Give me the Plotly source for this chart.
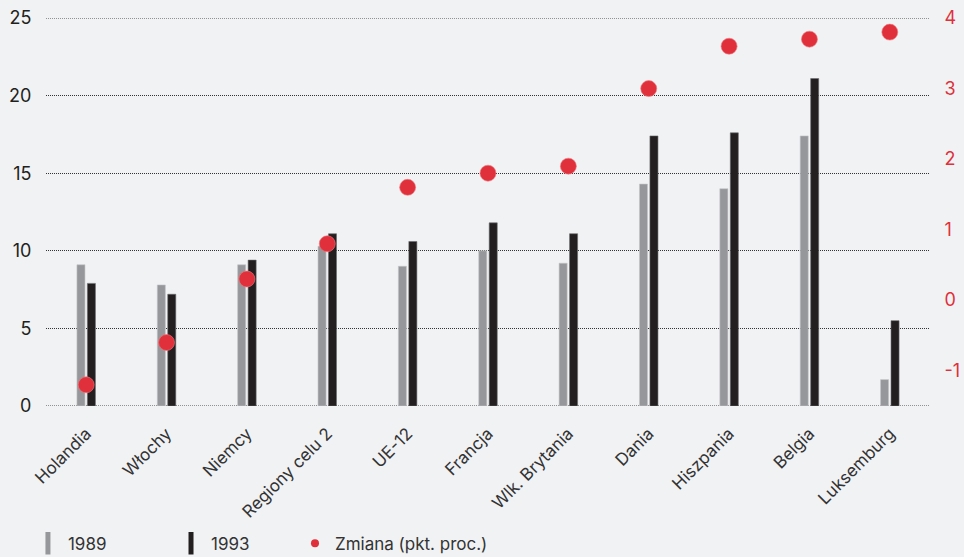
import plotly.graph_objects as go

regions = ["Holandia", "Włochy", "Niemcy", "Regiony celu 2", "UE-12", "Francja",
           "Wlk. Brytania", "Dania", "Hiszpania", "Belgia", "Luksemburg"]
y1989 = [9.1, 7.8, 9.1, 10.3, 9.0, 10.0, 9.2, 14.3, 14.0, 17.4, 1.7]
y1993 = [7.9, 7.2, 9.4, 11.1, 10.6, 11.8, 11.1, 17.4, 17.6, 21.1, 5.5]
change = [-1.2, -0.6, 0.3, 0.8, 1.6, 1.8, 1.9, 3.0, 3.6, 3.7, 3.8]

right_ticks = [-1, 0, 1, 2, 3, 4]
right_labels = ["-1", "0", "1", "2", "3", "4"]

GRAY = "#96979a"
BLACK = "#231f20"
RED = "#e0303b"
BG = "#f1f2f4"
FONT = "Inter, Roboto, sans-serif"
GRID_DASH = "1px,1px"

fig = go.Figure()

fig.add_trace(go.Bar(
    x=regions, y=y1989, name="1989", width=0.1, offset=-0.115,
    marker=dict(color=GRAY, line=dict(color="#c4c5c8", width=0.6)),
    showlegend=False,
))
fig.add_trace(go.Bar(
    x=regions, y=y1993, name="1993", width=0.1, offset=0.015,
    marker=dict(color=BLACK, line=dict(color="#6a6a6c", width=0.6)),
    showlegend=False,
))
fig.add_trace(go.Scatter(
    x=regions, y=change, name="Zmiana (pkt. proc.)", mode="markers",
    yaxis="y2", marker=dict(color=RED, size=16, line=dict(color="#f07880", width=0.6)),
    showlegend=False,
))

# legend-only entries, each in its own legend so they can sit at fixed spots
fig.add_trace(go.Scatter(x=[None], y=[None], mode="markers", name="1989", legend="legend",
                         marker=dict(symbol="line-ns", size=16, line=dict(color=GRAY, width=7))))
fig.add_trace(go.Scatter(x=[None], y=[None], mode="markers", name="1993", legend="legend2",
                         marker=dict(symbol="line-ns", size=16, line=dict(color=BLACK, width=7))))
fig.add_trace(go.Scatter(x=[None], y=[None], mode="markers", name="Zmiana (pkt. proc.)",
                         legend="legend3", marker=dict(color=RED, size=8)))

# dotted lines at the range edges (plotly skips gridlines there)
for yv in (0, 25):
    fig.add_hline(y=yv, line=dict(color="#333333", width=1, dash=GRID_DASH), layer="below")

leg = dict(orientation="h", xref="container", yref="container", y=0.024,
           yanchor="middle", xanchor="left",
           font=dict(size=17, color="#333333"), bgcolor="rgba(0,0,0,0)", itemwidth=30)

fig.update_layout(
    width=964, height=557,
    paper_bgcolor=BG, plot_bgcolor=BG,
    font=dict(family=FONT, color=BLACK),
    margin=dict(l=46, r=34, t=18, b=151, autoexpand=False),
    barmode="overlay",
    xaxis=dict(
        range=[-0.5, 10.5], tickangle=-45, showgrid=False, zeroline=False,
        tickfont=dict(size=17, color="#333333"),
        ticks="outside", ticklen=10, tickcolor="rgba(0,0,0,0)",
    ),
    yaxis=dict(
        range=[0, 25], dtick=5, showgrid=True, gridcolor="#333333", griddash=GRID_DASH,
        gridwidth=1, zeroline=False, tickfont=dict(size=18, color=BLACK),
        ticks="outside", ticklen=10, tickcolor="rgba(0,0,0,0)",
    ),
    yaxis2=dict(
        range=[-1.5, 4], tickvals=right_ticks, ticktext=right_labels,
        overlaying="y", side="right", showgrid=False,
        zeroline=False, tickfont=dict(size=18, color=RED),
        ticks="outside", ticklen=10, tickcolor="rgba(0,0,0,0)",
    ),
    legend=dict(leg, x=0.029),
    legend2=dict(leg, x=0.1774),
    legend3=dict(leg, x=0.306),
)

fig.write_html("out.html", config={"displayModeBar": False},
               post_script="document.body.style.margin='0';")
